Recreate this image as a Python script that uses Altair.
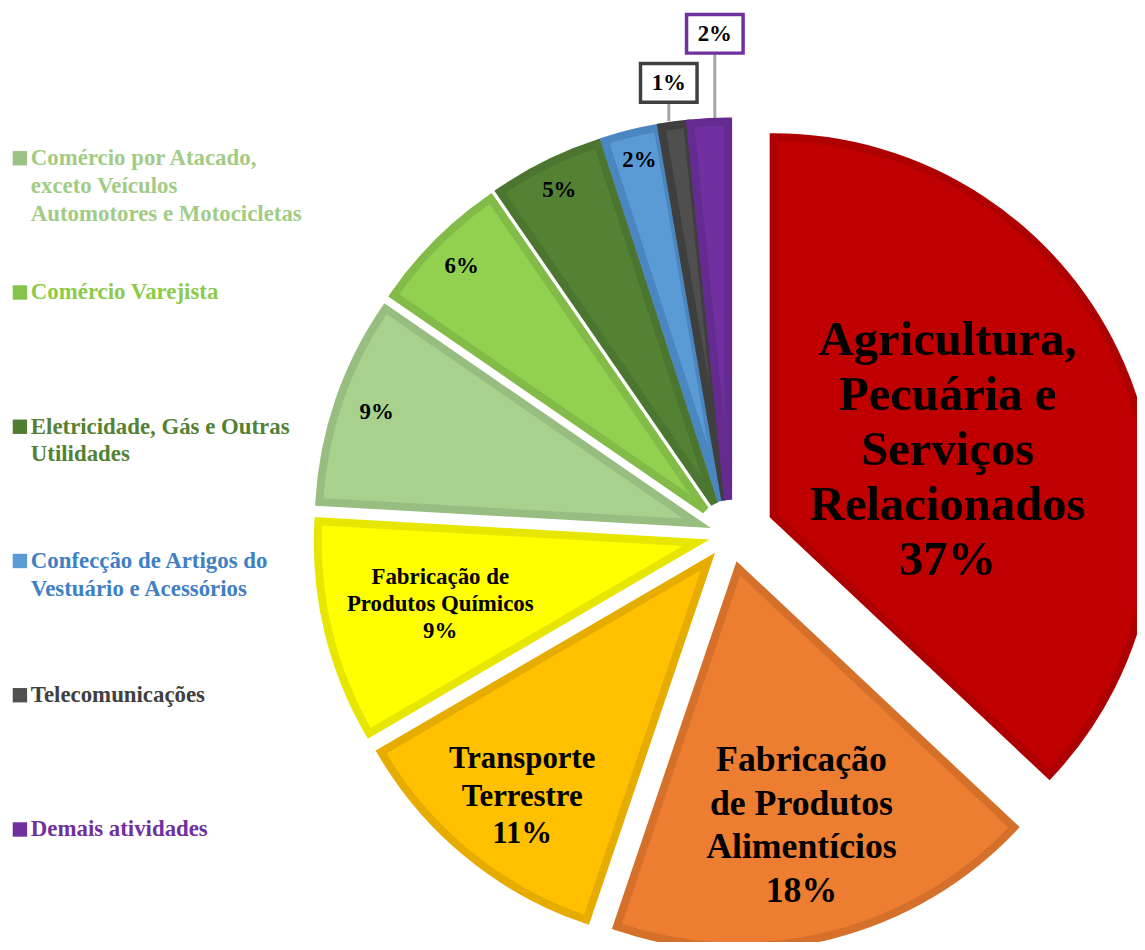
import math
import altair as alt
import pandas as pd

# ---------------- data ----------------
categories = [
    "Agricultura, Pecuária e Serviços Relacionados",
    "Fabricação de Produtos Alimentícios",
    "Transporte Terrestre",
    "Fabricação de Produtos Químicos",
    "Comércio por Atacado, exceto Veículos Automotores e Motocicletas",
    "Comércio Varejista",
    "Eletricidade, Gás e Outras Utilidades",
    "Confecção de Artigos do Vestuário e Acessórios",
    "Telecomunicações",
    "Demais atividades",
]
shares = [37.0, 18.2, 11.4, 9.3, 8.7, 5.8, 4.6, 2.3, 1.1, 1.6]

slice_titles = [
    "Agricultura,\nPecuária e\nServiços\nRelacionados\n",
    "Fabricação\nde Produtos\nAlimentícios\n",
    "Transporte\nTerrestre\n",
    "Fabricação de\nProdutos Químicos\n",
    "", "", "", "", "", "",
]
label_group = ["red", "orange", "gold", "yellow", "lg", "green", "dkgreen", "blue", "call1", "call2"]

legend_categories = categories[4:]
legend_labels = [
    "Comércio por Atacado,\nexceto Veículos\nAutomotores e Motocicletas",
    "Comércio Varejista",
    "Eletricidade, Gás e Outras\nUtilidades",
    "Confecção de Artigos do\nVestuário e Acessórios",
    "Telecomunicações",
    "Demais atividades",
]

# ---------------- styles ----------------
slice_fill = ["#C00000", "#ED7D31", "#FFC000", "#FFFF00", "#A9D18E",
              "#92D050", "#548235", "#5B9BD5", "#4F4F4F", "#7030A0"]
slice_border = ["#AE0000", "#D5702B", "#E6AD00", "#E6E600", "#98BD80",
                "#83BB48", "#4C7530", "#4A86C0", "#3F3F3F", "#652B90"]
legend_text_colors = ["#A2CC86", "#8CCB4A", "#548235", "#3F7FC4", "#404040", "#7030A0"]
legend_square_colors = ["#9BC285", "#86C34A", "#507C32", "#5B9BD5", "#505050", "#7030A0"]

W, H = 1137, 934
CX, CY = 727, 527
EXPLODE = 35                # base explosion (px)
EXPLODE_EXTRA = {"red": 48}  # slices pulled out further (px)
R = 381
STROKE = 8
FONT = "Liberation Serif"

# label placement: distance from slice tip along mid-angle, plus small nudge (px)
LABEL_STYLE = {
    "red":     dict(size=49, lh=55.5, lines=5, dist=191, nudge=(0, 10)),
    "orange":  dict(size=36, lh=44, lines=4, dist=262, nudge=(0, 5)),
    "gold":    dict(size=31, lh=38, lines=3, dist=302, nudge=(4, 3)),
    "yellow":  dict(size=23, lh=27, lines=3, dist=265, nudge=(0, 0)),
    "lg":      dict(size=23, lh=27, lines=1, dist=341, nudge=(0, -2)),
    "green":   dict(size=23, lh=27, lines=1, dist=347, nudge=(0, 0)),
    "dkgreen": dict(size=23, lh=27, lines=1, dist=353, nudge=(0, 1)),
    "blue":    dict(size=23, lh=27, lines=1, dist=354, nudge=(2, 0)),
    "call1":   dict(size=23, lh=27, lines=1, dist=422, nudge=(0, -2), box="#404040"),
    "call2":   dict(size=23, lh=27, lines=1, dist=466, nudge=(10, -4), box="#7030A0"),
}
BOX_PATH = "M-1.46,-1H1.46V1H-1.46Z"
BOX_H = 39

df = pd.DataFrame({
    "cat": categories,
    "share": shares,
    "order": list(range(len(categories))),
    "title": slice_titles,
    "group": label_group,
})

xs = alt.Scale(domain=[-1, 1], range=[CX - EXPLODE, CX + EXPLODE], nice=False, zero=False)
ys = alt.Scale(domain=[-1, 1], range=[CY - EXPLODE, CY + EXPLODE], nice=False, zero=False)

explode_expr = "1"
for g, e in EXPLODE_EXTRA.items():
    explode_expr = f"datum.group == '{g}' ? {e / EXPLODE} : ({explode_expr})"

base = (
    alt.Chart(df)
    .transform_joinaggregate(total="sum(share)")
    .transform_window(cum="sum(share)", sort=[alt.SortField("order")], frame=[None, 0])
    .transform_calculate(
        f0="(datum.cum - datum.share) / datum.total",
        f1="datum.cum / datum.total",
        mid="2 * PI * (datum.cum - datum.share / 2) / datum.total",
        ef=explode_expr,
    )
    .transform_calculate(
        ux="sin(datum.mid)",
        uy="-cos(datum.mid)",
        label="datum.title + format(datum.share / datum.total, '.0%')",
    )
    .transform_calculate(
        ex="datum.ux * datum.ef",
        ey="datum.uy * datum.ef",
    )
)

arcs = base.mark_arc(radius=R, strokeWidth=STROKE).encode(
    x=alt.X("ex:Q", scale=xs, axis=None),
    y=alt.Y("ey:Q", scale=ys, axis=None),
    theta=alt.Theta("f0:Q", scale=alt.Scale(domain=[0, 1], range=[0, 2 * math.pi])),
    theta2="f1:Q",
    color=alt.Color("cat:N", scale=alt.Scale(domain=categories, range=slice_fill), legend=None),
    stroke=alt.Stroke("cat:N", scale=alt.Scale(domain=categories, range=slice_border), legend=None),
)

text_layers = []
leaders = []
boxes = []
for g, st in LABEL_STYLE.items():
    k = st["dist"] / EXPLODE
    ndx, ndy = st["nudge"]
    sub = base.transform_filter(f"datum.group == '{g}'").transform_calculate(
        lx=f"datum.ex + datum.ux * {k} + {ndx / EXPLODE}",
        ly=f"datum.ey + datum.uy * {k} + {ndy / EXPLODE}",
    ).transform_calculate(
        lbot=f"datum.ly + {(BOX_H / 2 + 1) / EXPLODE}",
        oy=f"datum.ey + datum.uy * {(R + STROKE / 2) / EXPLODE}",
    )
    if "box" in st:
        leaders.append(sub.mark_rule(color="#A6A6A6", strokeWidth=3).encode(
            x=alt.X("lx:Q", scale=xs, axis=None),
            y=alt.Y("lbot:Q", scale=ys, axis=None),
            y2="oy:Q",
        ))
        boxes.append(sub.mark_point(
            shape=BOX_PATH, size=BOX_H ** 2, fill="white", stroke=st["box"],
            strokeWidth=3.5, opacity=1, fillOpacity=1, strokeOpacity=1, filled=False,
        ).encode(
            x=alt.X("lx:Q", scale=xs, axis=None),
            y=alt.Y("ly:Q", scale=ys, axis=None),
        ))
    text_layers.append(sub.mark_text(
        font=FONT, fontWeight="bold", fontSize=st["size"], lineHeight=st["lh"],
        lineBreak="\n", align="center", baseline="middle", color="black",
        dy=-(st["lines"] - 1) * st["lh"] / 2,
    ).encode(
        x=alt.X("lx:Q", scale=xs, axis=None),
        y=alt.Y("ly:Q", scale=ys, axis=None),
        text="label:N",
    ))

leg_df = pd.DataFrame({"cat": legend_categories, "label": legend_labels})
leg_y = alt.Y("cat:N", scale=alt.Scale(type="point", domain=legend_categories, range=[148, 824], padding=0), axis=None)
leg_squares = alt.Chart(leg_df).mark_point(shape="square", filled=True, size=210, opacity=1).encode(
    x=alt.value(12),
    y=leg_y,
    color=alt.Color("cat:N", scale=alt.Scale(domain=legend_categories, range=legend_square_colors), legend=None),
)
leg_text = alt.Chart(leg_df).mark_text(
    font=FONT, fontWeight="bold", fontSize=23, lineHeight=28, lineBreak="\n",
    align="left", baseline="middle",
).encode(
    x=alt.value(23),
    y=leg_y,
    text="label:N",
    color=alt.Color("cat:N", scale=alt.Scale(domain=legend_categories, range=legend_text_colors), legend=None),
)

chart = (
    alt.layer(*leaders, arcs, *boxes, *text_layers, leg_squares, leg_text)
    .resolve_scale(color="independent", y="independent", x="independent", stroke="independent")
    .properties(width=W, height=H, autosize=alt.AutoSizeParams(type="none"), padding=0, background="white")
    .configure_view(stroke=None)
)

chart.save("out.html", embed_options={"renderer": "svg", "actions": False})
